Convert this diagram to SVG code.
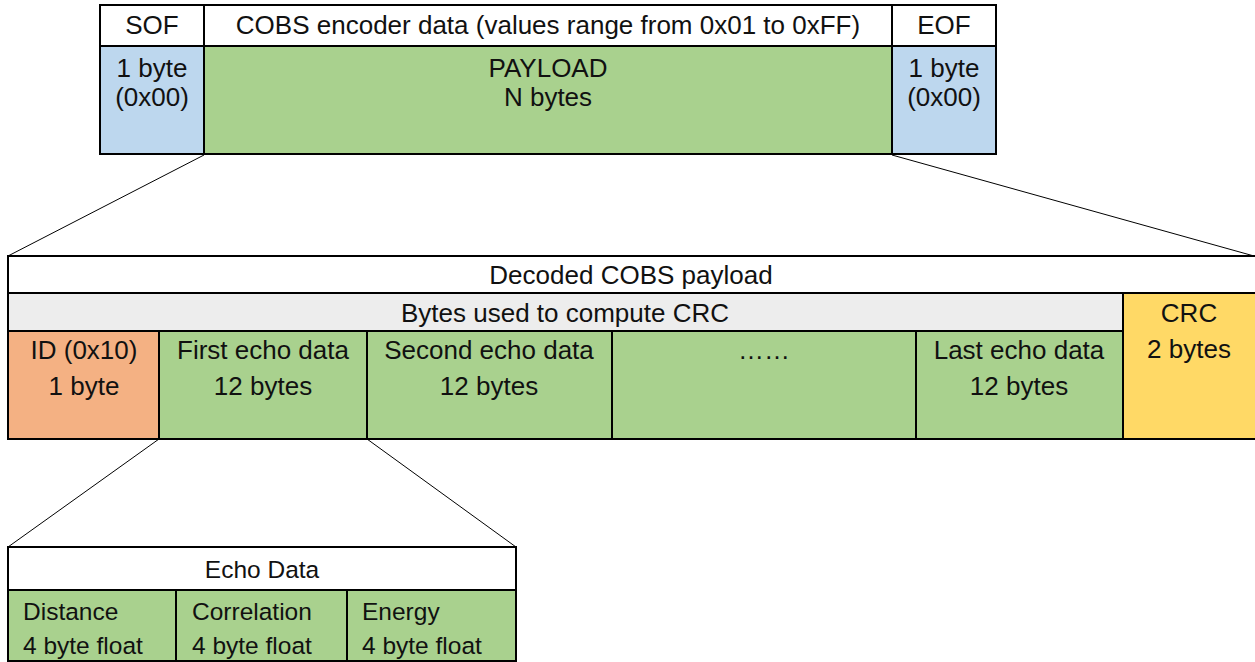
<svg xmlns="http://www.w3.org/2000/svg" width="1255" height="662" viewBox="0 0 1255 662">
<style>
.c{stroke:#000;stroke-width:2}
.t{font-family:"Liberation Sans",Arial,sans-serif;font-size:26px;fill:#111;text-anchor:middle}
.s{font-family:"Liberation Sans",Arial,sans-serif;font-size:24.5px;fill:#111}
.m{text-anchor:middle}
.w{fill:#fff}.b{fill:#BDD7EE}.g{fill:#A9D18E}.o{fill:#F4B183}.y{fill:#FFD966}.e{fill:#EDEDED}
.ln{stroke:#000;stroke-width:1;fill:none}
</style>
<rect width="1255" height="662" fill="#fff"/>
<g id="connectors">
<line class="ln" x1="204" y1="155" x2="8" y2="256"/>
<line class="ln" x1="892" y1="155" x2="1254" y2="256"/>
<line class="ln" x1="159" y1="439" x2="8" y2="547"/>
<line class="ln" x1="367" y1="439" x2="516" y2="547"/>
</g>
<g id="frame">
<rect class="c w" x="100" y="5" width="104" height="41"/>
<text class="t" x="152" y="34">SOF</text>
<rect class="c w" x="204" y="5" width="688" height="41"/>
<text class="t" x="548" y="34">COBS encoder data (values range from 0x01 to 0xFF)</text>
<rect class="c w" x="892" y="5" width="104" height="41"/>
<text class="t" x="944" y="34">EOF</text>
</g>
<g id="sof">
<rect class="c b" x="100" y="46" width="104" height="108"/>
<text class="t" x="152" y="77">1 byte</text>
<text class="t" x="152" y="106">(0x00)</text>
</g>
<g id="payload">
<rect class="c g" x="204" y="46" width="688" height="108"/>
<text class="t" x="548" y="77">PAYLOAD</text>
<text class="t" x="548" y="106">N bytes</text>
</g>
<g id="eof">
<rect class="c b" x="892" y="46" width="104" height="108"/>
<text class="t" x="944" y="77">1 byte</text>
<text class="t" x="944" y="106">(0x00)</text>
</g>
<g id="decoded">
<rect class="c w" x="8" y="256" width="1250" height="37"/>
<text class="t" x="631" y="284">Decoded COBS payload</text>
</g>
<g id="crcbytes">
<rect class="c e" x="8" y="293" width="1115" height="38"/>
<text class="t" x="565" y="322">Bytes used to compute CRC</text>
</g>
<g id="id">
<rect class="c o" x="8" y="331" width="151" height="108"/>
<text class="t" x="84" y="359">ID (0x10)</text>
<text class="t" x="84" y="395">1 byte</text>
</g>
<g id="first">
<rect class="c g" x="159" y="331" width="208" height="108"/>
<text class="t" x="263" y="359">First echo data</text>
<text class="t" x="263" y="395">12 bytes</text>
</g>
<g id="second">
<rect class="c g" x="367" y="331" width="245" height="108"/>
<text class="t" x="489" y="359">Second echo data</text>
<text class="t" x="489" y="395">12 bytes</text>
</g>
<g id="dots">
<rect class="c g" x="612" y="331" width="304" height="108"/>
<text class="t" x="764" y="359">……</text>
</g>
<g id="last">
<rect class="c g" x="916" y="331" width="207" height="108"/>
<text class="t" x="1019" y="359">Last echo data</text>
<text class="t" x="1019" y="395">12 bytes</text>
</g>
<g id="crc">
<rect class="c y" x="1123" y="293" width="135" height="146"/>
<text class="t" x="1189" y="322">CRC</text>
<text class="t" x="1189" y="358">2 bytes</text>
</g>
<g id="echodata">
<rect class="c w" x="8" y="547" width="508" height="43"/>
<text class="s m" x="262" y="578">Echo Data</text>
</g>
<g id="distance">
<rect class="c g" x="8" y="590" width="168" height="71"/>
<text class="s" x="23" y="620">Distance</text>
<text class="s" x="23" y="654">4 byte float</text>
</g>
<g id="correlation">
<rect class="c g" x="176" y="590" width="171" height="71"/>
<text class="s" x="192" y="620">Correlation</text>
<text class="s" x="192" y="654">4 byte float</text>
</g>
<g id="energy">
<rect class="c g" x="347" y="590" width="169" height="71"/>
<text class="s" x="362" y="620">Energy</text>
<text class="s" x="362" y="654">4 byte float</text>
</g>
</svg>
